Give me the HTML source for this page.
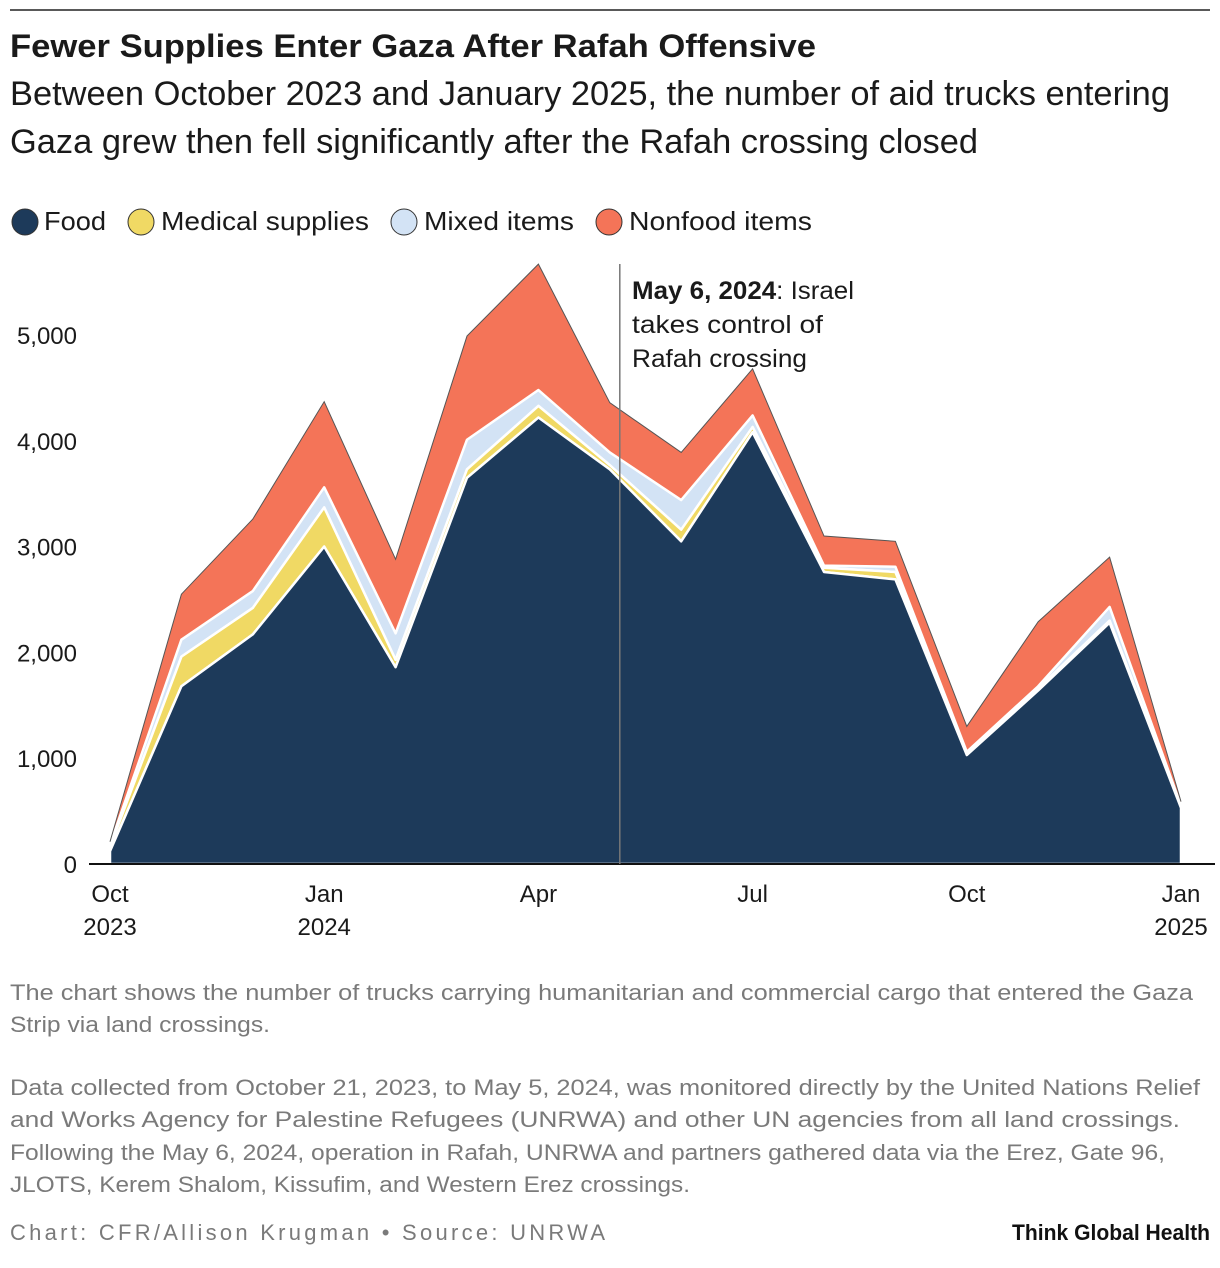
<!DOCTYPE html>
<html><head><meta charset="utf-8"><style>
html,body{margin:0;padding:0;background:#fff;}
svg{display:block;font-family:"Liberation Sans",sans-serif;}
</style></head><body>
<svg id="chart" width="1220" height="1268" viewBox="0 0 1220 1268" xmlns="http://www.w3.org/2000/svg">
<line x1="10" y1="10" x2="1210" y2="10" stroke="#222" stroke-width="1.5"/>
<text x="10" y="57" font-size="32" font-weight="bold" fill="#1a1a1a" textLength="806" lengthAdjust="spacingAndGlyphs">Fewer Supplies Enter Gaza After Rafah Offensive</text>
<text x="10" y="105" font-size="34" fill="#1a1a1a" textLength="1160" lengthAdjust="spacingAndGlyphs">Between October 2023 and January 2025, the number of aid trucks entering</text>
<text x="10" y="153" font-size="34" fill="#1a1a1a" textLength="968" lengthAdjust="spacingAndGlyphs">Gaza grew then fell significantly after the Rafah crossing closed</text>
<g font-size="26" fill="#1a1a1a">
<g><circle cx="25" cy="222" r="13" fill="#1d3a5a" stroke="#333" stroke-width="1"/><text x="44" y="230" textLength="62" lengthAdjust="spacingAndGlyphs">Food</text></g>
<g><circle cx="141" cy="222" r="13" fill="#f0d964" stroke="#333" stroke-width="1"/><text x="161" y="230" textLength="208" lengthAdjust="spacingAndGlyphs">Medical supplies</text></g>
<g><circle cx="404" cy="222" r="13" fill="#d3e3f5" stroke="#333" stroke-width="1"/><text x="424" y="230" textLength="150" lengthAdjust="spacingAndGlyphs">Mixed items</text></g>
<g><circle cx="609" cy="222" r="13" fill="#f47458" stroke="#333" stroke-width="1"/><text x="629" y="230" textLength="183" lengthAdjust="spacingAndGlyphs">Nonfood items</text></g>
</g>
<g id="plot"></g>
<g font-size="25" fill="#1a1a1a">
<text x="632" y="299" textLength="222" lengthAdjust="spacingAndGlyphs"><tspan font-weight="bold">May 6, 2024</tspan>: Israel</text>
<text x="632" y="333" textLength="191" lengthAdjust="spacingAndGlyphs">takes control of</text>
<text x="632" y="367" textLength="175" lengthAdjust="spacingAndGlyphs">Rafah crossing</text>
</g>
<g font-size="22" fill="#7a7a7a">
<text x="10" y="1000" textLength="1183" lengthAdjust="spacingAndGlyphs">The chart shows the number of trucks carrying humanitarian and commercial cargo that entered the Gaza</text>
<text x="10" y="1032" textLength="260" lengthAdjust="spacingAndGlyphs">Strip via land crossings.</text>
<text x="10" y="1095" textLength="1190" lengthAdjust="spacingAndGlyphs">Data collected from October 21, 2023, to May 5, 2024, was monitored directly by the United Nations Relief</text>
<text x="10" y="1127" textLength="1170" lengthAdjust="spacingAndGlyphs">and Works Agency for Palestine Refugees (UNRWA) and other UN agencies from all land crossings.</text>
<text x="10" y="1160" textLength="1155" lengthAdjust="spacingAndGlyphs">Following the May 6, 2024, operation in Rafah, UNRWA and partners gathered data via the Erez, Gate 96,</text>
<text x="10" y="1192" textLength="680" lengthAdjust="spacingAndGlyphs">JLOTS, Kerem Shalom, Kissufim, and Western Erez crossings.</text>
</g>
<text x="10" y="1240" font-size="22" fill="#7a7a7a" textLength="595" lengthAdjust="spacing">Chart: CFR/Allison Krugman • Source: UNRWA</text>
<text x="1210" y="1240" font-size="22" font-weight="bold" fill="#111" text-anchor="end" textLength="198" lengthAdjust="spacingAndGlyphs">Think Global Health</text>
</svg>
<script>
const months = ["2023-10","2023-11","2023-12","2024-01","2024-02","2024-03","2024-04","2024-05","2024-06","2024-07","2024-08","2024-09","2024-10","2024-11","2024-12","2025-01"];
const food = [120,1680,2170,3000,1860,3650,4220,3730,3050,4080,2760,2690,1030,1640,2280,530];
const medical = [40,280,250,370,70,80,110,40,110,50,40,70,10,20,20,10];
const mixed = [20,160,160,190,250,280,150,120,280,110,20,50,20,20,130,10];
const nonfood = [30,430,680,810,700,980,1190,470,450,440,280,240,240,610,470,40];
const yTicks = [0,1000,2000,3000,4000,5000];
const yTickLabels = ["0","1,000","2,000","3,000","4,000","5,000"];
const xTickIdx = [0,3,6,9,12,15];
const xTickLine1 = ["Oct","Jan","Apr","Jul","Oct","Jan"];
const xTickLine2 = ["2023","2024","","","","2025"];
const annotationIdx = 7.14;

const NS = "http://www.w3.org/2000/svg";
const plot = document.getElementById('plot');
const x = i => 110 + i * (1181 - 110) / 15;
const y = v => 864 - v * (864 - 335) / 5000;

function mk(tag, attrs){const e=document.createElementNS(NS,tag);for(const k in attrs)e.setAttribute(k,attrs[k]);plot.appendChild(e);return e;}

const layers = [[food,"#1d3a5a","area-food"],[medical,"#f0d964","area-medical"],[mixed,"#d3e3f5","area-mixed"],[nonfood,"#f47458","area-nonfood"]];
let base = months.map(()=>0);
const areas = [];
layers.forEach(([vals,col,name])=>{
  const top = base.map((b,i)=>b+vals[i]);
  let d = "M"+top.map((t,i)=>x(i)+","+y(t)).join("L");
  for(let i=months.length-1;i>=0;i--) d += "L"+x(i)+","+y(base[i]);
  d += "Z";
  areas.push([d,col,name,top]);
  base = top;
});
for(let k=areas.length-1;k>=0;k--){
  const [d,col,name] = areas[k];
  const p = mk('path',{d:d,fill:col,stroke:"#fff","stroke-width":k===areas.length-1?0:2.5,"stroke-linejoin":"round"});
  
  
}
const tot = areas[areas.length-1][3];
const ol = mk('path',{d:"M"+tot.map((t,i)=>x(i)+","+y(t)).join("L"),fill:"none",stroke:"#555","stroke-width":1});


yTicks.forEach((v,i)=>{
  const t = mk('text',{x:77,y:y(v)+9,"font-size":24,fill:"#1a1a1a","text-anchor":"end"});
  t.textContent = yTickLabels[i];
  
  
});
const axis = mk('line',{x1:89,y1:864,x2:1215,y2:864,stroke:"#111","stroke-width":2});


xTickIdx.forEach((idx,i)=>{
  const t = mk('text',{x:x(idx),y:902,"font-size":24,fill:"#1a1a1a","text-anchor":"middle"});
  t.textContent = xTickLine1[i];
  
  
  if(xTickLine2[i]){
    const t2 = mk('text',{x:x(idx),y:935,"font-size":24,fill:"#1a1a1a","text-anchor":"middle"});
    t2.textContent = xTickLine2[i];
    
    
  }
});
const al = mk('line',{x1:x(annotationIdx),y1:264,x2:x(annotationIdx),y2:864,stroke:"#777","stroke-width":1.5});


</script>
</body></html>
